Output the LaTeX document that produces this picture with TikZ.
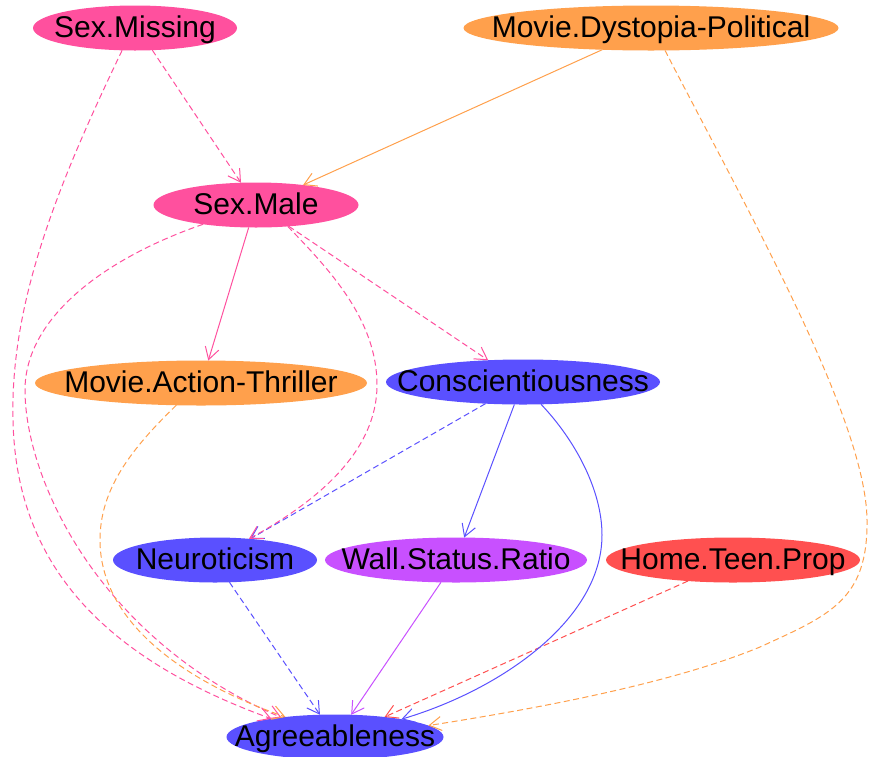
\documentclass[tikz,border=0pt]{standalone}
\usepackage{fontspec}
\setmainfont{Liberation Sans}
\usetikzlibrary{shapes.geometric,arrows.meta}
\definecolor{cpink}{RGB}{255,80,158}
\definecolor{corange}{RGB}{255,160,76}
\definecolor{cblue}{RGB}{90,80,255}
\definecolor{cpurple}{RGB}{200,80,255}
\definecolor{cred}{RGB}{255,80,80}
\begin{document}
\begin{tikzpicture}[x=1pt,y=-1pt,
  var/.style={ellipse, draw=none, inner sep=0pt, outer sep=0pt, minimum height=45pt},
  every label/.style={font=\fontsize{30}{36}\selectfont, text=black, inner sep=0pt,
    text height=24pt, text depth=5.5pt},
  link/.style={line width=1pt, -{Straight Barb[length=12pt,width=14pt]}},
  weak/.style={link, dash pattern=on 6pt off 3.5pt}]
\useasboundingbox (0,0) rectangle (870,756);

% variables: fixed-size ellipses, names set as centred labels
\node[var, fill=cpink,   minimum width=204pt, label=center:{Sex.Missing}]              (smiss)  at (135,28)  {};
\node[var, fill=corange, minimum width=375pt, label=center:{Movie.Dystopia-Political}] (dyst)   at (651,28)  {};
\node[var, fill=cpink,   minimum width=205pt, label=center:{Sex.Male}]                 (smale)  at (256,205) {};
\node[var, fill=corange, minimum width=332pt, label=center:{Movie.Action-Thriller}]    (action) at (201,383) {};
\node[var, fill=cblue,   minimum width=274pt, label=center:{Conscientiousness}]        (consc)  at (523,382) {};
\node[var, fill=cblue,   minimum width=204pt, label=center:{Neuroticism}]              (neuro)  at (215,560) {};
\node[var, fill=cpurple, minimum width=262pt, label=center:{Wall.Status.Ratio}]        (wall)   at (456,560) {};
\node[var, fill=cred,    minimum width=254pt, label=center:{Home.Teen.Prop}]           (teen)   at (733,560) {};
\node[var, fill=cblue,   minimum width=217pt, label=center:{Agreeableness}]            (agree)  at (335,737) {};

% straight links
\draw[weak, cpink]   (smiss.308) -- (smale.124);
\draw[link, corange] (dyst.204)  -- (smale.23);
\draw[link, cpink]   (smale.252) -- (action.72);
\draw[weak, cpink]   (smale.327) -- (consc.148);
\draw[weak, cblue]   (consc.210) -- (neuro.31);
\draw[link, cblue]   (consc.249) -- (wall.70);
\draw[weak, cblue]   (neuro.303) -- (agree.124);
\draw[link, cpurple] (wall.236)  -- (agree.54);
\draw[weak, cred]    (teen.205)  -- (agree.22);

% curved links
\draw[weak, cpink] (smiss.240) .. controls (60,180) and (10,300) .. (13,420)
  .. controls (16,570) and (110,660) .. (agree.164);
\draw[weak, cpink] (smale.200) .. controls (100,260) and (25,320) .. (25,390)
  .. controls (25,480) and (100,640) .. (agree.160);
\draw[weak, corange] (action.222) .. controls (130,450) and (100,490) .. (100,540)
  .. controls (100,620) and (180,680) .. (agree.158);
\draw[weak, cpink] (smale.326) .. controls (330,270) and (377,320) .. (377,385)
  .. controls (377,450) and (320,500) .. (neuro.32);
\draw[link, cblue] (consc.309) .. controls (575,440) and (602,490) .. (602,535)
  .. controls (602,620) and (500,690) .. (agree.15);
\draw[weak, corange] (dyst.302) .. controls (750,215) and (866,420) .. (867,520)
  .. controls (868,600) and (830,615) .. (760,647)
  .. controls (680,680) and (560,705) .. (agree.7);
\end{tikzpicture}
\end{document}
